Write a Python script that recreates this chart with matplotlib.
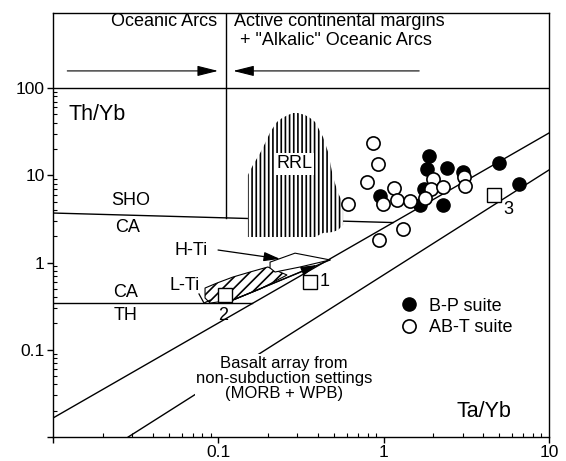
import numpy as np
import matplotlib.pyplot as plt
from matplotlib.ticker import FixedLocator, NullFormatter

plt.rcParams['font.family'] = ['Liberation Sans', 'DejaVu Sans']
plt.rcParams['hatch.linewidth'] = 1.2

# B-P suite (filled) / AB-T suite (open)
bp_ta = [1.88, 1.82, 2.41, 0.944, 1.75, 1.65, 2.27, 3.0, 4.99, 6.61]
bp_th = [16.6, 11.8, 12.0, 5.71, 7.05, 4.56, 4.56, 10.8, 13.8, 8.04]
abt_ta = [0.859, 0.929, 0.789, 0.611, 1.15, 1.21, 0.995, 1.45, 2.0, 1.94,
          2.27, 1.78, 1.31, 0.942, 3.04, 3.11]
abt_th = [23.2, 13.5, 8.43, 4.74, 7.18, 5.27, 4.68, 5.07, 9.06, 6.96,
          7.24, 5.49, 2.43, 1.81, 9.55, 7.53]

# reference compositions (squares)
ref_ta = [0.359, 0.110, 4.62]
ref_th = [0.590, 0.424, 5.94]
ref_lab = ['1', '2', '3']
ref_lab_ta = [0.442, 0.1067, 5.68]
ref_lab_th = [0.603, 0.250, 4.0]

# basalt array boundaries
upper_ta = [0.01, 10]
upper_th = [0.0165, 30.5]
lower_ta = [0.0285, 10]
lower_th = [0.01, 11.5]

# SHO/CA and CA/TH boundaries
sho_ta = [0.01, 1.14]
sho_th = [3.69, 2.87]
cath_ta = [0.01, 0.160]
cath_th = [0.339, 0.339]
split_ta = 0.112

# RRL field
rrl_ta = [0.151, 0.162, 0.179, 0.192, 0.206, 0.226, 0.243, 0.264, 0.283,
          0.303, 0.334, 0.359, 0.385, 0.430, 0.461, 0.494, 0.530, 0.568]
rrl_top = [10.1, 13.1, 18.0, 23.4, 31.3, 40.8, 45.3, 49.1, 51.7,
           51.7, 49.1, 45.3, 40.8, 27.4, 18.5, 9.55, 6.26, 4.81]
rrl_bot = [1.96, 1.96, 1.96, 1.96, 1.96, 1.96, 1.96, 1.96, 1.96,
           1.96, 1.96, 1.96, 1.96, 2.18, 2.2, 2.24, 2.36, 2.69]

# L-Ti and H-Ti fields
lti_ta = [0.0831, 0.0982, 0.1227, 0.1555, 0.1993, 0.2603, 0.1788, 0.1227, 0.0891, 0.0831]
lti_th = [0.510, 0.582, 0.682, 0.778, 0.888, 0.719, 0.497, 0.372, 0.343, 0.392]
hti_ta = [0.2055, 0.291, 0.474, 0.312, 0.2203, 0.2055]
hti_th = [1.01, 1.28, 1.07, 0.888, 0.778, 0.865]
trend_ta = [0.1227, 0.474]
trend_th = [0.372, 1.07]

fig = plt.figure(figsize=(5.66, 4.61), dpi=100)
ax = fig.add_axes([53 / 566, 1 - 437 / 461, 496 / 566, 424 / 461])
ax.set_xscale('log')
ax.set_yscale('log')
ax.set_xlim(0.01, 10)
ax.set_ylim(0.01, 724)

lw = 1.0
ax.plot(upper_ta, upper_th, color='k', lw=lw, zorder=2)
ax.plot(lower_ta, lower_th, color='k', lw=lw, zorder=2)
ax.plot(sho_ta, sho_th, color='k', lw=lw, zorder=2)
ax.plot(cath_ta, cath_th, color='k', lw=lw, zorder=2)
ax.axhline(100, color='k', lw=lw, zorder=2)
split_th = 10 ** np.interp(np.log10(split_ta), np.log10(sho_ta), np.log10(sho_th))
ax.plot([split_ta, split_ta], [split_th, 724], color='k', lw=lw, zorder=2)

ax.fill_between(rrl_ta, rrl_bot, rrl_top, facecolor='white', edgecolor='black',
                hatch='||||', linewidth=0, zorder=3)
ax.text(0.287, 13.5, 'RRL', ha='center', va='center', fontsize=13, zorder=4,
        bbox=dict(facecolor='white', edgecolor='none', pad=1.5))

ax.fill(lti_ta, lti_th, facecolor='white', edgecolor='black', hatch='///', lw=0.8, zorder=3)
ax.fill(hti_ta, hti_th, facecolor='white', edgecolor='black', lw=0.8, zorder=3)
ax.plot(trend_ta, trend_th, color='k', lw=0.9, zorder=3)
ax.annotate('', xy=(0.395, 0.936), xytext=(0.1227, 0.372),
            arrowprops=dict(arrowstyle='-|>,head_length=0.7,head_width=0.2',
                            color='k', lw=0.9, mutation_scale=14, shrinkA=0, shrinkB=0), zorder=3)
ax.annotate('', xy=(0.236, 1.10), xytext=(0.0996, 1.39),
            arrowprops=dict(arrowstyle='-|>,head_length=0.7,head_width=0.2',
                            color='k', lw=0.9, mutation_scale=14, shrinkA=0, shrinkB=0), zorder=3)
ax.plot([0.0764, 0.0819, 0.0891], [0.436, 0.343, 0.37], color='k', lw=0.9, zorder=3)

ax.text(0.0684, 1.39, 'H-Ti', ha='center', va='center', fontsize=13)
ax.text(0.0629, 0.552, 'L-Ti', ha='center', va='center', fontsize=13)
ax.text(0.0296, 5.07, 'SHO', ha='center', va='center', fontsize=13)
ax.text(0.0281, 2.55, 'CA', ha='center', va='center', fontsize=13)
ax.text(0.0273, 0.459, 'CA', ha='center', va='center', fontsize=13)
ax.text(0.0273, 0.244, 'TH', ha='center', va='center', fontsize=13)

ax.text(0.2497, 0.0474, 'Basalt array from\nnon-subduction settings\n(MORB + WPB)',
        ha='center', va='center', fontsize=12, linespacing=1.0, zorder=4,
        bbox=dict(facecolor='white', edgecolor='none', pad=1))
ax.text(0.01233, 49.1, 'Th/Yb', ha='left', va='center', fontsize=15.5)
ax.text(4.05, 0.0194, 'Ta/Yb', ha='center', va='center', fontsize=15.5)

# header
ax.text(0.098, 586, 'Oceanic Arcs', ha='right', va='center', fontsize=13)
ax.text(0.1245, 586, 'Active continental margins', ha='left', va='center', fontsize=13)
ax.text(0.135, 355, '+ "Alkalic" Oceanic Arcs', ha='left', va='center', fontsize=13)
ax.annotate('', xy=(0.0996, 157), xytext=(0.0122, 157),
            arrowprops=dict(arrowstyle='-|>,head_length=0.8,head_width=0.2',
                            color='k', lw=0.8, mutation_scale=16, shrinkA=0, shrinkB=0))
ax.annotate('', xy=(0.123, 157), xytext=(1.64, 157),
            arrowprops=dict(arrowstyle='-|>,head_length=0.8,head_width=0.2',
                            color='k', lw=0.8, mutation_scale=16, shrinkA=0, shrinkB=0))

# data
ax.plot(ref_ta, ref_th, 's', ms=10, mfc='white', mec='k', mew=1.0, zorder=5)
for lab, tx, ty in zip(ref_lab, ref_lab_ta, ref_lab_th):
    ax.text(tx, ty, lab, ha='center', va='center', fontsize=13, zorder=5)
h1, = ax.plot(bp_ta, bp_th, 'o', ms=9.5, mfc='black', mec='black', mew=1.0,
              ls='none', label='B-P suite', zorder=6)
h2, = ax.plot(abt_ta, abt_th, 'o', ms=9.5, mfc='white', mec='black', mew=1.2,
              ls='none', label='AB-T suite', zorder=7)
ax.legend(handles=[h1, h2], loc='upper left', bbox_to_anchor=(0.682, 0.35),
          frameon=False, handletextpad=0.6, labelspacing=0.25, borderpad=0,
          handlelength=1.0, fontsize=13)

# axes / ticks
ax.set_xticks([0.01, 0.1, 1, 10])
ax.set_xticklabels(['', '0.1', '1', '10'])
ax.set_yticks([0.01, 0.1, 1, 10, 100])
ax.set_yticklabels(['', '0.1', '1', '10', '100'])
xm = [m * 10.0 ** e for e in (-2, -1, 0) for m in range(2, 10)]
ym = [m * 10.0 ** e for e in (-2, -1, 0, 1) for m in range(2, 10)]
ax.xaxis.set_minor_locator(FixedLocator(xm))
ax.yaxis.set_minor_locator(FixedLocator(ym))
ax.xaxis.set_minor_formatter(NullFormatter())
ax.yaxis.set_minor_formatter(NullFormatter())
ax.tick_params(which='major', direction='out', length=4, width=1, labelsize=12.5, pad=2)
ax.tick_params(which='minor', direction='in', length=3, width=0.8)
for s in ax.spines.values():
    s.set_linewidth(1.0)

fig.savefig('out.png', dpi=100)
